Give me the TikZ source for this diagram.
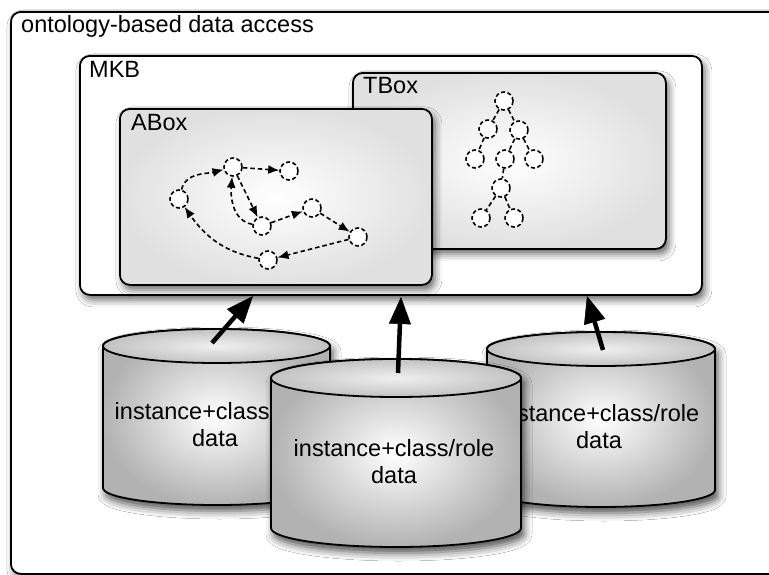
\documentclass[tikz,border=0pt]{standalone}
\usepackage{fontspec}
\setmainfont{Liberation Sans}
\usetikzlibrary{arrows.meta,shadows.blur}
\newcommand\mycyl[6]{%
  \path[draw, line width=1.8pt, inner color=white, outer color=black!30,
        blur shadow={shadow xshift=3pt, shadow yshift=-6pt, shadow blur radius=8pt, shadow opacity=70}]
    ({#1-#4},{#2}) -- ({#1-#4},{#3}) arc[start angle=180,end angle=360,x radius=#4,y radius=#5]
    -- ({#1+#4},{#2}) arc[start angle=0,end angle=180,x radius=#4,y radius=#5] -- cycle;
  \path[draw, line width=1.8pt, inner color=black!6, outer color=black!24]
    (#1,#2) ellipse[x radius=#4, y radius=#5];
  \coordinate (#6) at (#1,#2);
}
\begin{document}
\begin{tikzpicture}[x=1pt,y=1pt,
  lbl/.style={font=\fontsize{23.5}{27}\selectfont, inner sep=0pt, anchor=base west},
  boxshadow/.style={blur shadow={shadow xshift=3pt, shadow yshift=-5pt, shadow blur radius=7pt, shadow opacity=60}},
  outerbox/.style={draw, line width=1.8pt, rounded corners=10pt, fill=white, boxshadow, anchor=north west, inner sep=0pt},
  graybox/.style={draw, line width=1.8pt, rounded corners=10pt, inner color=white, outer color=black!12, boxshadow, anchor=north west, inner sep=0pt},
  gnode/.style={circle, draw, dash pattern=on 4pt off 2.5pt, line width=1.6pt, minimum size=18pt, inner sep=0pt, fill=white},
  garrow/.style={dash pattern=on 4.5pt off 3pt, line width=1.6pt, -{Latex[length=11pt,width=9pt]}},
  tedge/.style={dash pattern=on 4.5pt off 3pt, line width=1.6pt},
  bigarrow/.style={line width=4.5pt, -{Triangle[length=27pt,width=22pt,line width=0.5pt,fill=black]}},
  cyltext/.style={font=\fontsize{23.5}{27}\selectfont, align=center, inner sep=0pt}
]
\clip (0,0) rectangle (769,-575);
\fill[white] (0,0) rectangle (769,-575);

% outer box
\node[outerbox, minimum width=780pt, minimum height=562pt] (obda) at (10,-11) {};
\node[lbl] (obdalbl) at (21,-33) {ontology-based data access};

% MKB
\node[outerbox, minimum width=622pt, minimum height=239pt] (mkb) at (79,-55) {};
\node[lbl] (mkblbl) at (89,-78) {MKB};

% TBox
\node[graybox, minimum width=313pt, minimum height=176pt] (tbox) at (352,-72) {};
\node[lbl] (tboxlbl) at (363,-94) {TBox};

% ABox
\node[graybox, minimum width=312pt, minimum height=176pt] (abox) at (119,-108) {};
\node[lbl] (aboxlbl) at (131,-131) {ABox};

% ABox graph
\node[gnode] (A) at (233,-167) {};
\node[gnode] (B) at (289,-171) {};
\node[gnode] (C) at (179,-199) {};
\node[gnode] (D) at (262,-226) {};
\node[gnode] (E) at (312,-208) {};
\node[gnode] (F) at (358,-237) {};
\node[gnode] (G) at (268,-260) {};
\draw[garrow] (C) to[out=75, in=195] (A);
\draw[garrow] (A) -- (B);
\draw[garrow] (A) -- (D);
\draw[garrow] (D) to[out=170, in=265] (A);
\draw[garrow] (D) -- (E);
\draw[garrow] (E) -- (F);
\draw[garrow] (F) -- (G);
\draw[garrow] (G) to[out=170, in=-55] (C);

% TBox tree
\node[gnode] (t0) at (504,-101) {};
\node[gnode] (t1) at (488,-129) {};
\node[gnode] (t2) at (519,-130) {};
\node[gnode] (t3) at (475,-159) {};
\node[gnode] (t4) at (505,-159) {};
\node[gnode] (t5) at (534,-159) {};
\node[gnode] (t6) at (501,-188) {};
\node[gnode] (t7) at (481,-218) {};
\node[gnode] (t8) at (514,-218) {};
\draw[tedge] (t0) -- (t1);
\draw[tedge] (t0) -- (t2);
\draw[tedge] (t1) -- (t3);
\draw[tedge] (t2) -- (t4);
\draw[tedge] (t2) -- (t5);
\draw[tedge] (t4) -- (t6);
\draw[tedge] (t6) -- (t7);
\draw[tedge] (t6) -- (t8);

% cylinders
\mycyl{216.5}{-346}{-488}{113.5}{17}{cylA}
\node[cyltext] (dbA) at (215,-425) {instance+class/role\\data};
\mycyl{601}{-349}{-490}{114}{17}{cylC}
\node[cyltext] (dbC) at (599,-427) {instance+class/role\\data};
\mycyl{396}{-378}{-528}{125}{19}{cylB}
\node[cyltext] (dbB) at (394,-462) {instance+class/role\\data};

% arrows
\coordinate (sA) at (212,-343);
\coordinate (eA) at (253,-296);
\coordinate (sB) at (398,-373);
\coordinate (eB) at (401,-297);
\coordinate (sC) at (603,-350);
\coordinate (eC) at (587,-296);
\draw[bigarrow] (sA) -- (eA);
\draw[bigarrow] (sB) -- (eB);
\draw[bigarrow] (sC) -- (eC);
\end{tikzpicture}
\end{document}
